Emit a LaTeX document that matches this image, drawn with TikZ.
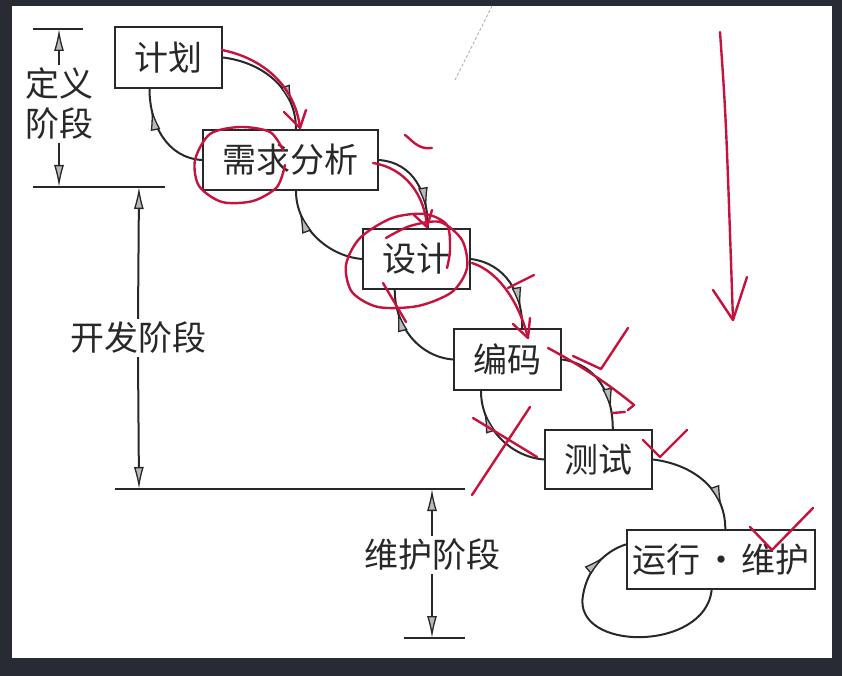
\documentclass[tikz,border=0pt]{standalone}
\usepackage{fontspec}
\setmainfont{Noto Sans CJK SC}
\usetikzlibrary{arrows.meta,decorations.markings}
\definecolor{frame}{RGB}{40,43,52}
\definecolor{ink}{RGB}{40,40,40}
\definecolor{annred}{RGB}{200,18,62}
\begin{document}
\begin{tikzpicture}[x=1pt,y=-1pt,
  box/.style={draw=ink,line width=2.2pt,fill=white,inner sep=0pt,text=ink,font=\fontsize{34}{34}\selectfont},
  lbl/.style={text=ink,inner sep=3pt,font=\fontsize{34}{40}\selectfont,align=center},
  tip/.tip={Latex[length=22pt,width=10pt,fill=gray!55,line width=1.3pt]},
  conn/.style={draw=ink,line width=2pt,postaction={decorate},
    decoration={markings,mark=at position #1 with {\arrow[ink]{tip}}}},
  conn/.default=0.8,
  dim/.style={draw=ink,line width=2pt,-tip},
  bar/.style={draw=ink,line width=2.2pt},
  redpen/.style={draw=annred,line width=2.4pt,line cap=round,line join=round}]
\fill[frame] (0,0) rectangle (842,676);
\fill[white] (12,6) rectangle (832,658);
\useasboundingbox (0,0) rectangle (842,676);

% boxes
\node[box,minimum width=107pt,minimum height=61pt] (jh) at (168.5,57.5) {计划};
\node[box,minimum width=175pt,minimum height=60pt] (xq) at (290.5,160) {需求分析};
\node[box,minimum width=107pt,minimum height=60pt] (sj) at (416.5,259) {设计};
\node[box,minimum width=107pt,minimum height=61pt] (bm) at (507.5,359.5) {编码};
\node[box,minimum width=107pt,minimum height=59pt] (cs) at (598.5,459.5) {测试};
\node[box,minimum width=188pt,minimum height=59pt] (yw) at (721,559.5) {运行\hspace{0.1em}·\hspace{0.1em}维护};

% forward and backward connectors
\draw[conn] (jh.east) .. controls +(40,5) and +(0,-40) .. (xq.80);
\draw[conn] (xq.west) .. controls +(-35,-2) and +(0,35) .. (jh.239);
\draw[conn] (xq.east) .. controls +(35,3) and +(0,-35) .. (sj.70);
\draw[conn] (sj.west) .. controls +(-35,-3) and +(0,35) .. (xq.-80);
\draw[conn] (sj.east) .. controls +(35,5) and +(0,-35) .. (bm.65);
\draw[conn] (bm.west) .. controls +(-35,-3) and +(0,35) .. (sj.235);
\draw[conn] (bm.east) .. controls +(35,5) and +(0,-35) .. (cs.65);
\draw[conn] (cs.west) .. controls +(-35,-3) and +(0,35) .. (bm.230);
\draw[conn] (cs.east) .. controls +(40,5) and +(0,-40) .. (yw.82);
\draw[conn=0.9] (yw.253) .. controls (705,652) and (572,652) .. (583,595)
   .. controls (588,566) and (608,550) .. (yw.171);

% phase dimensions
\coordinate (d1) at (59,29);
\coordinate (d2) at (59,187);
\coordinate (k1) at (139,187);
\coordinate (k2) at (139,489);
\coordinate (w1) at (432,489);
\coordinate (w2) at (432,638);
\draw[bar] (33,29) -- (83,29);
\draw[bar] (33,187) -- (165,187);
\draw[bar] (115,489) -- (465,489);
\draw[bar] (404,638) -- (465,638);
\node[lbl] (dy) at (59,104) {定义\\阶段};
\node[lbl] (kf) at (138,338) {开发阶段};
\node[lbl] (wh) at (432,555) {维护阶段};
\draw[dim] (dy.north) -- (d1);
\draw[dim] (dy.south) -- (d2);
\draw[dim] (kf.north) -- (k1);
\draw[dim] (kf.south) -- (k2);
\draw[dim] (wh.north) -- (w1);
\draw[dim] (wh.south) -- (w2);

% faint pencil stroke
\draw[gray!60,line width=0.9pt,densely dashed] (455,80) .. controls (470,50) .. (493,4);

% red annotations
\draw[redpen] plot[smooth] coordinates {(283,150) (270,132) (240,127) (210,134) (195,160) (199,186) (222,202) (253,201) (277,187) (285,165)};
\draw[redpen] plot[smooth] coordinates {(386,238) (410,226) (440,222) (462,240) (467,268) (452,292) (418,306) (378,307) (352,292) (346,265) (360,238) (392,218) (425,214) (447,225) (450,250) (447,268)};
\draw[redpen] (222,50) .. controls (262,58) and (295,85) .. (300,128);
\draw[redpen] (284,112) -- (300,128) -- (306,110);
\draw[redpen] (373,163) .. controls (405,168) and (425,195) .. (427,227);
\draw[redpen] (414,215) -- (427,227) -- (432,210);
\draw[redpen] (472,263) .. controls (500,272) and (520,305) .. (528,338);
\draw[redpen] (513,324) -- (528,338) -- (530,318);
\draw[redpen] (405,135) .. controls (412,140) and (418,150) .. (432,148);
\draw[redpen] (383,283) -- (406,322);
\draw[redpen] (508,288) -- (534,275);
\draw[redpen] (548,348) .. controls (580,365) and (610,385) .. (634,405) -- (628,410);
\draw[redpen] (612,413) -- (625,412);
\draw[redpen] (573,356) -- (601,369) -- (628,328);
\draw[redpen] (473,418) -- (537,457);
\draw[redpen] (530,407) -- (472,495);
\draw[redpen] (643,440) -- (660,457) -- (687,430);
\draw[redpen] (750,527) -- (772,550) -- (813,508);
\draw[redpen] (720,32) .. controls (726,117) .. (733,320);
\draw[redpen] (713,290) -- (733,320) -- (747,277);
\end{tikzpicture}
\end{document}
